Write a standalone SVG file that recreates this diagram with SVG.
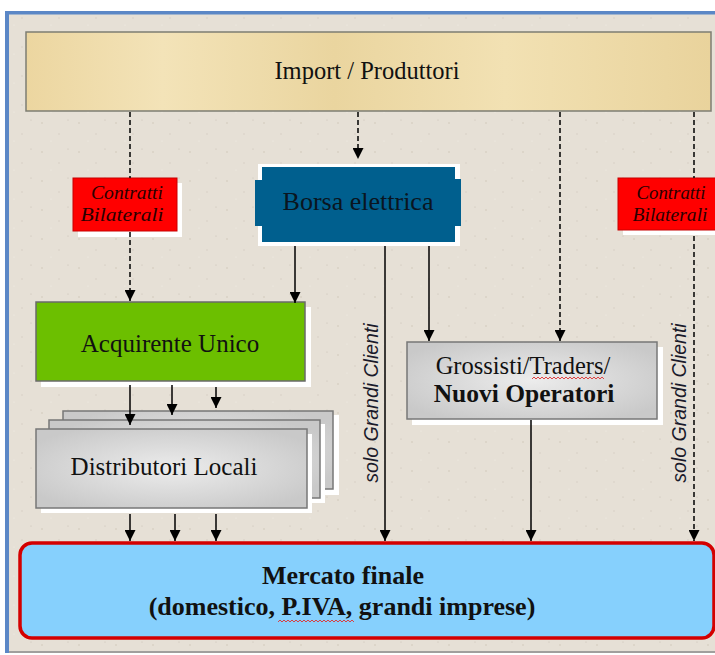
<svg xmlns="http://www.w3.org/2000/svg" width="715" height="655" viewBox="0 0 715 655">
<defs>
<style>
.serif{font-family:"Liberation Serif","Times New Roman",serif;}
.t{font-size:24px;fill:#111;text-anchor:middle;}
.b{font-weight:bold;}
.ctr{font-size:19px;font-style:italic;fill:#2a0000;text-anchor:middle;}
.vert{font-family:"Liberation Sans",Arial,sans-serif;font-size:19.5px;font-style:italic;fill:#1a1a2a;text-anchor:middle;}
.ln{stroke:#000;stroke-width:1.5;fill:none;}
.dash{stroke-dasharray:5,3;}
.arr{marker-end:url(#ah);}
.shadow{fill:#fff;}
.dist{fill:url(#gray);stroke:#777;stroke-width:1.5;}
.wavy{fill:none;stroke:#e03030;stroke-width:0.9;}
</style>
<marker id="ah" viewBox="0 0 10 10" refX="10" refY="5" markerWidth="11" markerHeight="11" markerUnits="userSpaceOnUse" orient="auto">
<path d="M0,0 L10,5 L0,10 z" fill="#000"/>
</marker>
<radialGradient id="gray" cx="50%" cy="50%" r="60%">
<stop offset="0" stop-color="#ececec"/>
<stop offset="1" stop-color="#c9c9c9"/>
</radialGradient>
<linearGradient id="papyrus" x1="0" y1="0" x2="1" y2="0">
<stop offset="0" stop-color="#ecd6a0"/>
<stop offset="0.2" stop-color="#f3e3b8"/>
<stop offset="0.45" stop-color="#ead59f"/>
<stop offset="0.7" stop-color="#f2e1b3"/>
<stop offset="1" stop-color="#e9d39c"/>
</linearGradient>
<pattern id="speck" width="37" height="29" patternUnits="userSpaceOnUse">
<rect width="37" height="29" fill="#e6e0d6"/>
<circle cx="5" cy="7" r="0.8" fill="#cfc7ba"/>
<circle cx="22" cy="18" r="0.7" fill="#d4ccc0"/>
<circle cx="31" cy="4" r="0.6" fill="#c9c1b4"/>
<circle cx="14" cy="25" r="0.6" fill="#f3efe8"/>
</pattern>
</defs>

<!-- frame -->
<rect x="0" y="0" width="715" height="655" fill="#fff"/>
<rect x="7" y="11" width="708" height="642" fill="url(#speck)"/>
<rect x="5" y="11" width="710" height="3.5" fill="#5b87c6"/>
<rect x="5" y="11" width="4" height="642" fill="#5b87c6"/>
<line x1="9" y1="652" x2="715" y2="652" stroke="#8a8a8a" stroke-width="1.5"/>

<g id="import">
<rect x="26" y="32" width="685" height="79" fill="url(#papyrus)" stroke="#7d7d73" stroke-width="1.5"/>
<text class="serif t" x="367" y="79" style="font-size:24.5px">Import / Produttori</text>
</g>

<g id="contratti-sx">
<rect class="shadow" x="78" y="183" width="104" height="54"/>
<rect x="73" y="178" width="104" height="53" fill="#ff0000" stroke="#c80000" stroke-width="1"/>
<text class="serif ctr" x="127" y="199" textLength="72" lengthAdjust="spacingAndGlyphs">Contratti</text>
<text class="serif ctr" x="122" y="221" textLength="83" lengthAdjust="spacingAndGlyphs">Bilaterali</text>
</g>

<g id="contratti-dx">
<rect class="shadow" x="623" y="183" width="95" height="52"/>
<rect x="618" y="178" width="100" height="52" fill="#ff0000" stroke="#c80000" stroke-width="1"/>
<text class="serif ctr" x="671" y="199" textLength="69" lengthAdjust="spacingAndGlyphs">Contratti</text>
<text class="serif ctr" x="670" y="221" textLength="75" lengthAdjust="spacingAndGlyphs">Bilaterali</text>
</g>

<g id="borsa">
<rect class="shadow" x="258" y="164" width="202" height="82"/>
<path d="M262,167 H455 V179 H461 V226 H455 V242 H262 V226 H255 V180 H262 Z" fill="#005f8e"/>
<text class="serif t" x="358" y="210" style="font-size:26px;fill:#0a1520">Borsa elettrica</text>
</g>

<g id="acquirente">
<rect class="shadow" x="41" y="307" width="270" height="80"/>
<rect x="36" y="302" width="269" height="79" fill="#6cbf00" stroke="#6a6a6a" stroke-width="1.5"/>
<text class="serif t" x="170" y="352" style="font-size:25px">Acquirente Unico</text>
</g>

<g id="distributori">
<rect class="shadow" x="68" y="415" width="271" height="80"/>
<rect class="dist" x="63" y="411" width="270" height="78"/>
<rect class="shadow" x="54" y="424" width="271" height="79"/>
<rect class="dist" x="49" y="420" width="271" height="78"/>
<rect class="shadow" x="41" y="434" width="271" height="79"/>
<rect class="dist" x="36" y="429" width="271" height="79"/>
<text class="serif t" x="164" y="475" style="font-size:25px">Distributori Locali</text>
</g>

<g id="grossisti">
<rect class="shadow" x="412" y="347" width="251" height="78"/>
<rect class="dist" x="407" y="342" width="250" height="77"/>
<text class="serif t" x="523" y="374" style="font-size:24.5px">Grossisti/Traders/</text>
<path class="wavy" d="M532,379 l2,-2 l2,2 l2,-2 l2,2 l2,-2 l2,2 l2,-2 l2,2 l2,-2 l2,2 l2,-2 l2,2 l2,-2 l2,2 l2,-2 l2,2 l2,-2 l2,2 l2,-2 l2,2 l2,-2 l2,2 l2,-2 l2,2 l2,-2 l2,2 l2,-2 l2,2 l2,-2 l2,2 l2,-2 l2,2 l2,-2 l2,2 l2,-2 l2,2"/>
<text class="serif t b" x="524" y="402" style="font-size:25.5px">Nuovi Operatori</text>
</g>

<g id="mercato">
<rect x="20" y="543" width="694" height="95" rx="12" fill="#86d0fd" stroke="#d40000" stroke-width="3.5"/>
<text class="serif t b" x="343" y="584" style="font-size:26px">Mercato finale</text>
<text class="serif t b" x="342" y="615" style="font-size:26px">(domestico, P.IVA, grandi imprese)</text>
<path class="wavy" d="M278,622 l2,-2 l2,2 l2,-2 l2,2 l2,-2 l2,2 l2,-2 l2,2 l2,-2 l2,2 l2,-2 l2,2 l2,-2 l2,2 l2,-2 l2,2 l2,-2 l2,2 l2,-2 l2,2 l2,-2 l2,2 l2,-2 l2,2 l2,-2 l2,2 l2,-2 l2,2 l2,-2 l2,2 l2,-2 l2,2 l2,-2 l2,2 l2,-2 l2,2 l2,-2 l2,2"/>
</g>

<g id="labels">
<text class="vert" transform="translate(378,403) rotate(-90)">solo Grandi Clienti</text>
<text class="vert" transform="translate(686,403) rotate(-90)">solo Grandi Clienti</text>
</g>

<g id="connectors">
<line class="ln dash" x1="130" y1="112" x2="130" y2="178"/>
<line class="ln dash arr" x1="130" y1="232" x2="130" y2="301"/>
<line class="ln dash arr" x1="358" y1="112" x2="358" y2="159"/>
<line class="ln dash arr" x1="560" y1="112" x2="560" y2="341"/>
<line class="ln dash" x1="694" y1="112" x2="694" y2="178"/>
<line class="ln dash arr" x1="694" y1="236" x2="694" y2="541"/>
<line class="ln arr" x1="295" y1="246" x2="295" y2="303"/>
<line class="ln arr" x1="385" y1="246" x2="385" y2="541"/>
<line class="ln arr" x1="429" y1="246" x2="429" y2="341"/>
<line class="ln arr" x1="130" y1="385" x2="130" y2="425"/>
<line class="ln arr" x1="172" y1="385" x2="172" y2="415"/>
<line class="ln arr" x1="216" y1="387" x2="216" y2="408"/>
<line class="ln arr" x1="130" y1="514" x2="130" y2="541"/>
<line class="ln arr" x1="175" y1="514" x2="175" y2="541"/>
<line class="ln arr" x1="216" y1="514" x2="216" y2="541"/>
<line class="ln arr" x1="531" y1="420" x2="531" y2="541"/>
</g>
</svg>
